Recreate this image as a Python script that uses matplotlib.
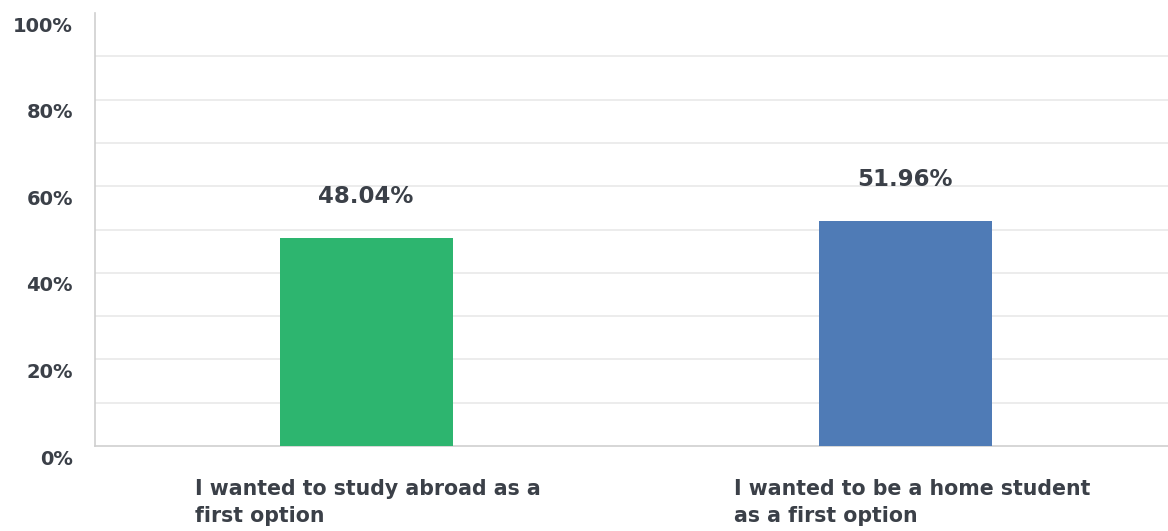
import numpy as np
import matplotlib.pyplot as plt
import matplotlib.transforms as mtransforms

# answers and their shares (percent of respondents)
categories = ["I wanted to study abroad as a\nfirst option",
              "I wanted to be a home student\nas a first option"]
shares = [48.04, 51.96]
bar_colors = ["#2db56f", "#4f7bb6"]
y_ticks = [0, 20, 40, 60, 80, 100]

text_col = "#3b4048"
plt.rcParams['font.family'] = ['DejaVu Sans']

fig = plt.figure(figsize=(11.68, 5.31), dpi=100)
ax = fig.add_axes([95/1168, 1 - 446/531, 1 - 95/1168, (446 - 13)/531])

x = np.arange(len(categories))
ax.bar(x, shares, width=0.321, color=bar_colors, zorder=3)

# value labels above each bar
for xi, v in zip(x, shares):
    ax.annotate(f"{v:.2f}%", (xi, v), xytext=(0, 30), textcoords="offset points",
                ha="center", va="center", fontsize=16.5, fontweight="bold", color=text_col)

ax.set_xlim(-0.503, 1.488)
ax.set_ylim(0, 100)

# light horizontal grid every 10%
for g in range(10, 100, 10):
    ax.axhline(g, color="#e9e9e9", lw=1.2, zorder=1)

ax.set_yticks(y_ticks)
ax.set_yticklabels([f"{t}%" for t in y_ticks], fontsize=14, fontweight="bold", color=text_col)
ax.tick_params(axis="y", length=0, pad=16)
for lab in ax.get_yticklabels():
    lab.set_transform(lab.get_transform() + mtransforms.ScaledTranslation(0, -8/72, fig.dpi_scale_trans))

ax.set_xticks([])
for xi, c in zip(x, categories):
    ax.annotate(c, (xi, 0), xytext=(-123, -23.5), textcoords="offset points",
                ha="left", va="top", fontsize=14.8, fontweight="bold", color=text_col,
                linespacing=1.45, annotation_clip=False)

for side in ["top", "right"]:
    ax.spines[side].set_visible(False)
ax.spines["left"].set_color("#cfcfcf")
ax.spines["bottom"].set_color("#cfcfcf")
ax.spines["left"].set_linewidth(1.2)
ax.spines["bottom"].set_linewidth(1.2)

fig.savefig("out.png", dpi=100, facecolor="white")
